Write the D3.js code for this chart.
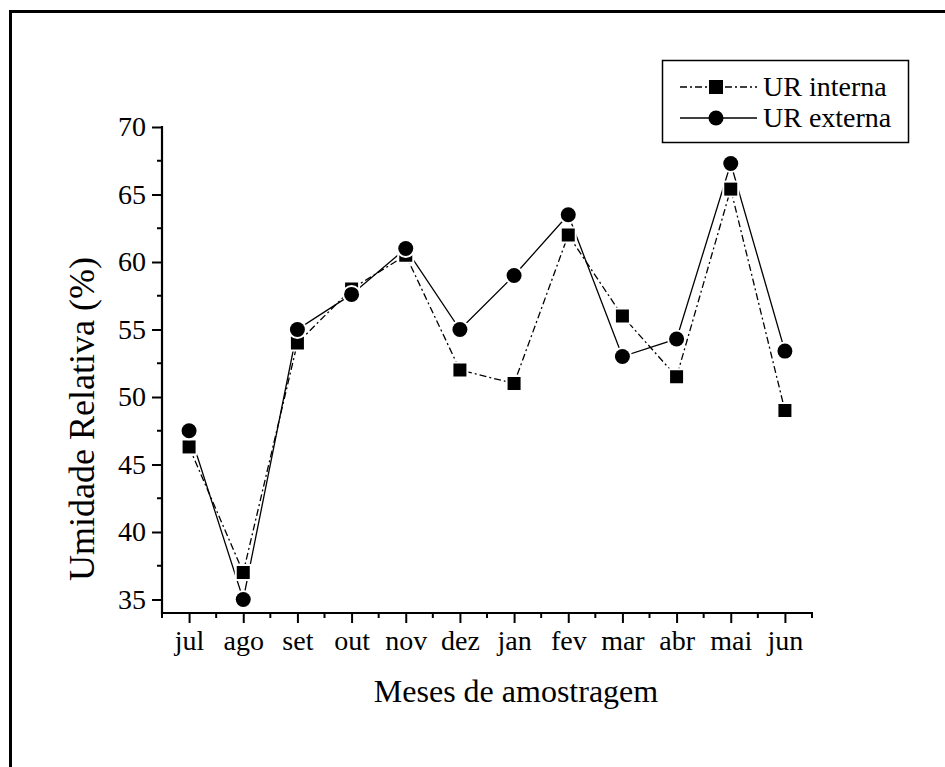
<!DOCTYPE html>
<html><head><meta charset="utf-8">
<script src="https://cdn.jsdelivr.net/npm/d3@7"></script>
<style>body{margin:0;background:#fff}svg{display:block}text{font-family:"Liberation Serif","Times New Roman",serif;fill:#000}</style>
</head><body><svg id="c" width="945" height="767"></svg>
<script>
const months = ["jul","ago","set","out","nov","dez","jan","fev","mar","abr","mai","jun"];
const urInterna = [46.3, 37.0, 54.0, 58.0, 60.5, 52.0, 51.0, 62.0, 56.0, 51.5, 65.4, 49.0];
const urExterna = [47.5, 35.0, 55.0, 57.6, 61.0, 55.0, 59.0, 63.5, 53.0, 54.3, 67.3, 53.4];
const yTicks = [35, 40, 45, 50, 55, 60, 65, 70];
const seriesNames = ["UR interna", "UR externa"];
const xTitle = "Meses de amostragem";
const yTitle = "Umidade Relativa (%)";

const svg = d3.select("#c");
// outer frame
svg.append("rect").attr("x",10.5).attr("y",11.5).attr("width",1000).attr("height",1000)
  .attr("fill","none").attr("stroke","#000").attr("stroke-width",3);

const x = d3.scaleLinear().domain([-0.5, 11.5]).range([162, 812]);
const y = d3.scaleLinear().domain([34, 70]).range([613, 127]);

const g = svg.append("g");
// y axis
const yAxis = d3.axisLeft(y).tickValues(yTicks).tickSize(10).tickPadding(6).tickFormat(d3.format("d"));
const ya = g.append("g").attr("transform","translate(162,0)").call(yAxis);
ya.select(".domain").remove();
ya.selectAll(".tick line").attr("stroke-width",2);
ya.selectAll("text").attr("font-size",28).attr("font-family","Liberation Serif");
const yMinor = d3.range(37.5, 70, 5);
g.append("g").selectAll("line").data(yMinor).join("line")
  .attr("x1",157).attr("x2",162).attr("y1",d=>y(d)).attr("y2",d=>y(d))
  .attr("stroke","#000").attr("stroke-width",2);
g.append("line").attr("x1",162).attr("x2",162).attr("y1",y(70)-1).attr("y2",y(34)+1)
  .attr("stroke","#000").attr("stroke-width",2.2);

// x axis
const xAxis = d3.axisBottom(x).tickValues(d3.range(0,12)).tickSize(10).tickPadding(7)
  .tickFormat(i => months[i]);
const xa = g.append("g").attr("transform","translate(0,613)").call(xAxis);
xa.select(".domain").remove();
xa.selectAll(".tick line").attr("stroke-width",2);
xa.selectAll("text").attr("font-size",28).attr("font-family","Liberation Serif");
const xMinor = d3.range(-0.5, 12, 1);
g.append("g").selectAll("line").data(xMinor).join("line")
  .attr("x1",d=>x(d)).attr("x2",d=>x(d)).attr("y1",613).attr("y2",618)
  .attr("stroke","#000").attr("stroke-width",2);
g.append("line").attr("x1",161).attr("x2",813).attr("y1",613).attr("y2",613)
  .attr("stroke","#000").attr("stroke-width",2.2);

// titles
svg.append("text").attr("x",516).attr("y",702).attr("text-anchor","middle")
  .attr("font-size",32).text(xTitle);
svg.append("text").attr("transform","translate(94,419) rotate(-90)").attr("text-anchor","middle")
  .attr("font-size",36).text(yTitle);

// lines
const line = d3.line().x((d,i)=>x(i)).y(d=>y(d));
const dashInt = "7,3,2,3";
g.append("path").datum(urInterna).attr("d",line).attr("fill","none")
  .attr("stroke","#000").attr("stroke-width",1.3).attr("stroke-dasharray",dashInt);
g.append("path").datum(urExterna).attr("d",line).attr("fill","none")
  .attr("stroke","#000").attr("stroke-width",1.3);

// markers with white halo (gap effect)
const sq = 13, cr = 7.5;
g.append("g").selectAll("rect").data(urInterna).join("rect")
  .attr("x",(d,i)=>x(i)-sq/2).attr("y",d=>y(d)-sq/2).attr("width",sq).attr("height",sq)
  .attr("fill","#000").attr("stroke","#fff").attr("stroke-width",4).attr("paint-order","stroke");
g.append("g").selectAll("circle").data(urExterna).join("circle")
  .attr("cx",(d,i)=>x(i)).attr("cy",d=>y(d)).attr("r",cr)
  .attr("fill","#000").attr("stroke","#fff").attr("stroke-width",4).attr("paint-order","stroke");

// legend
const lg = svg.append("g");
lg.append("rect").attr("x",662.5).attr("y",60.5).attr("width",246).attr("height",82)
  .attr("fill","#fff").attr("stroke","#000").attr("stroke-width",1.5);
const rows = [87, 118];
lg.append("line").attr("x1",680).attr("x2",757).attr("y1",rows[0]).attr("y2",rows[0])
  .attr("stroke","#000").attr("stroke-width",1.3).attr("stroke-dasharray",dashInt);
lg.append("rect").attr("x",716-7).attr("y",rows[0]-7).attr("width",14).attr("height",14).attr("fill","#000");
lg.append("line").attr("x1",680).attr("x2",757).attr("y1",rows[1]).attr("y2",rows[1])
  .attr("stroke","#000").attr("stroke-width",1.3);
lg.append("circle").attr("cx",716).attr("cy",rows[1]).attr("r",7.5).attr("fill","#000");
lg.selectAll("text.l").data(seriesNames).join("text").attr("class","l")
  .attr("x",763).attr("y",(d,i)=>rows[i]+9).attr("font-size",28).text(d=>d);
</script></body></html>
